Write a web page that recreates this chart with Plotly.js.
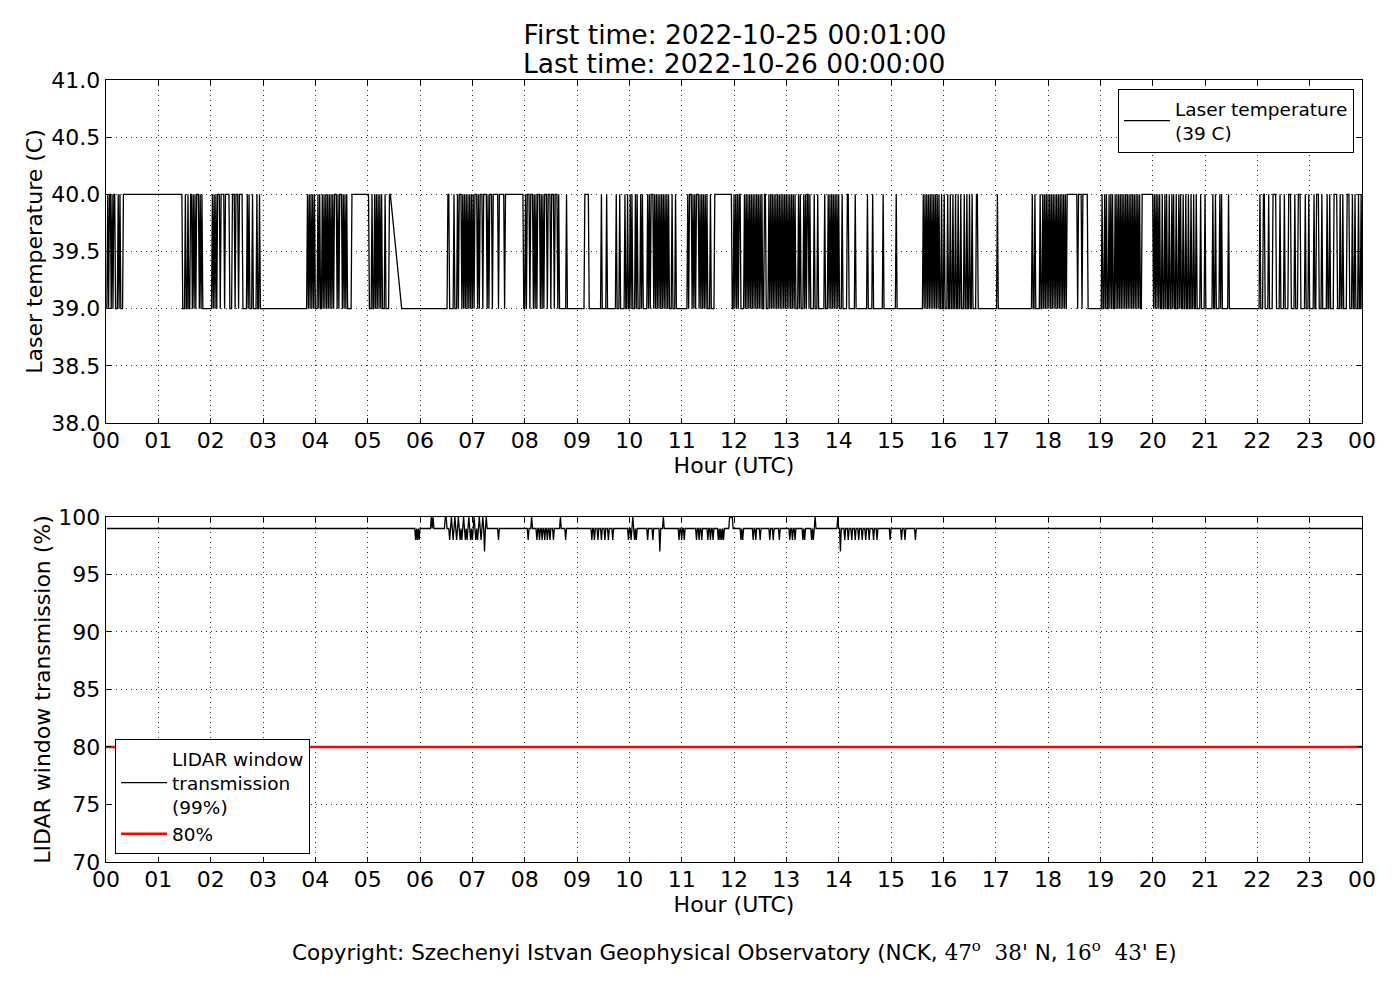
<!DOCTYPE html>
<html>
<head>
<meta charset="utf-8">
<script src="https://cdn.plot.ly/plotly-3.0.1.min.js"></script>
<style>
  body { margin: 0; background: #fff; }
</style>
</head>
<body>
<div id="plot" style="width:1400px;height:1000px"></div>
<script>
// minutes (HH:MM or HH:MM-HH:MM) where the laser reads 40 C, all other samples read 39 C
var tempHigh = [
    "00:02", "00:04-00:05", "00:07", "00:09-00:10", "00:14", "00:16", "00:20-01:27",
    "01:31", "01:34", "01:37-01:38", "01:40", "01:42", "01:44-01:46", "01:48", "01:50",
    "02:02", "02:04", "02:06", "02:08-02:10", "02:12-02:15", "02:17-02:21", "02:25-02:27",
    "02:29-02:31", "02:33-02:36", "02:42", "02:44", "02:48", "02:53", "02:56",
    "03:51", "03:53", "03:55", "03:57", "03:59", "04:03", "04:05", "04:08", "04:10", "04:12",
    "04:14", "04:16", "04:18", "04:20", "04:22-04:24", "04:26", "04:28-04:30", "04:32", "04:34",
    "04:36", "04:42-05:01", "05:05", "05:08", "05:10", "05:12", "05:14", "05:16", "05:20",
    "05:25-05:26",
    "06:32-06:33", "06:39", "06:43", "06:45-06:47", "06:49", "06:51", "06:53", "06:55", "06:57",
    "06:59", "07:01", "07:03-07:05", "07:07", "07:09-07:11", "07:13-07:16", "07:18",
    "07:20-07:22", "07:24-07:29", "07:31-07:36", "07:38-07:58",
    "08:01", "08:03-08:05", "08:07-08:09", "08:11", "08:13", "08:15-08:17", "08:19", "08:21",
    "08:23-08:25", "08:27-08:29", "08:31-08:33", "08:35-08:37", "08:39",
    "08:48", "09:09-09:13", "09:28", "09:34", "09:45", "09:49", "09:55", "09:58",
    "10:01", "10:03", "10:07", "10:09", "10:13", "10:15",
    "10:21", "10:23", "10:25-10:27", "10:29", "10:31", "10:33", "10:35", "10:37", "10:39",
    "10:41", "10:43", "10:45", "10:49", "10:53",
    "11:07", "11:09-11:11", "11:13", "11:15", "11:17-11:19", "11:21", "11:23", "11:25",
    "11:27", "11:29", "11:33", "11:38-11:57",
    "12:00", "12:02", "12:04", "12:06-12:07", "12:12", "12:14", "12:16", "12:18", "12:20",
    "12:22", "12:24", "12:26", "12:28", "12:30", "12:32", "12:35-12:36", "12:40", "12:42",
    "12:44", "12:46", "12:48", "12:50", "12:52", "12:54", "12:56", "12:58", "13:00", "13:02",
    "13:04", "13:06", "13:08", "13:10",
    "13:14", "13:16", "13:20", "13:22", "13:24-13:25", "13:27", "13:32", "13:36", "13:44",
    "13:48", "13:50", "13:52", "13:54", "13:56", "13:58", "14:00",
    "14:04", "14:10-14:11", "14:19", "14:33", "14:39", "14:51", "15:06",
    "15:37", "15:39", "15:41", "15:43", "15:45", "15:47", "15:49", "15:51", "15:53", "15:55",
    "15:58", "16:01", "16:05", "16:08", "16:11", "16:14", "16:17", "16:20", "16:24", "16:27",
    "16:30", "16:33", "16:38-16:39",
    "17:02", "17:42", "17:45",
    "17:51", "17:54", "17:56", "17:58", "18:00", "18:02", "18:04", "18:06", "18:08", "18:10",
    "18:12", "18:14", "18:16", "18:18", "18:20", "18:22-18:33", "18:35-18:38", "18:40-18:45",
    "19:02", "19:05", "19:07", "19:10", "19:12", "19:14", "19:17", "19:19", "19:21", "19:23",
    "19:25", "19:27", "19:29", "19:31", "19:33", "19:35", "19:37", "19:39", "19:41", "19:43",
    "19:45", "19:48-20:00",
    "20:02", "20:04", "20:06", "20:08", "20:11", "20:14", "20:16", "20:19", "20:22", "20:24",
    "20:27", "20:30", "20:32", "20:35", "20:38", "20:41", "20:44", "20:47", "20:50", "20:55",
    "21:00", "21:09", "21:12", "21:17", "21:19", "21:27",
    "22:03", "22:07-22:08", "22:13", "22:18-22:21", "22:26", "22:31", "22:36-22:38", "22:43",
    "22:47-22:49", "22:55", "22:59", "23:05", "23:08-23:10", "23:14", "23:20", "23:23",
    "23:28-23:31", "23:35", "23:38", "23:43-23:45", "23:49", "23:52", "23:56", "23:59"
]
var tempLowValue = 39
var tempHighValue = 40
var tempGap = ["05:26", "05:39"]   // no samples in between

// LIDAR window transmission: 99 % except at these minutes
var lidarTimes = [
    "05:55", "05:57", "05:59", "06:13", "06:15",
    "06:29", "06:30", "06:34", "06:36", "06:38", "06:40", "06:42", "06:44", "06:46", "06:48",
    "06:50", "06:52", "06:54", "06:56", "06:58", "07:00", "07:02", "07:04", "07:06", "07:08",
    "07:10", "07:12", "07:14", "07:16", "07:30",
    "08:04", "08:08", "08:14", "08:17", "08:20", "08:23", "08:26", "08:29", "08:33", "08:41",
    "08:47",
    "09:17", "09:20", "09:24", "09:28", "09:32", "09:36", "09:41", "09:59", "10:02", "10:04",
    "10:06", "10:08", "10:21", "10:27", "10:35", "10:39",
    "10:57", "11:00", "11:03", "11:17", "11:20", "11:23", "11:30", "11:33", "11:36", "11:42",
    "11:44", "11:46", "11:48", "11:55", "11:56", "11:57", "11:58",
    "12:08", "12:10", "12:22", "12:25", "12:30", "12:41", "12:45", "12:52", "13:04", "13:07",
    "13:10", "13:19", "13:21", "13:29", "13:31", "13:33", "13:59", "14:02", "14:07", "14:11",
    "14:15", "14:19", "14:23", "14:27", "14:31", "14:35", "14:40", "14:44", "14:59", "15:12",
    "15:16", "15:28"
]
var lidarValues = [
    98, 98, 98, 100, 100,
    100, 100, 98, 100, 98, 100, 98, 100, 98, 98,
    100, 98, 98, 100, 98, 98, 100, 98, 98, 100,
    98, 100, 97, 100, 98,
    98, 100, 98, 98, 98, 98, 98, 98, 98, 100,
    98,
    98, 98, 98, 98, 98, 98, 98, 98, 98, 100,
    98, 98, 98, 98, 97, 100,
    98, 98, 98, 98, 98, 98, 98, 98, 98, 98,
    98, 98, 98, 100, 100, 100, 100,
    98, 98, 98, 98, 98, 98, 98, 98, 98, 98,
    98, 98, 98, 98, 98, 100, 100, 97, 98, 98,
    98, 98, 98, 98, 98, 98, 98, 98, 98, 98,
    98, 98
]
var lidarBase = 99
var lidarLimit = 80

var firstMinute = "00:01"
var lastMinute = "24:00"
var hourLabels = ["00", "01", "02", "03", "04", "05", "06", "07", "08", "09", "10", "11",
                  "12", "13", "14", "15", "16", "17", "18", "19", "20", "21", "22", "23", "00"]

function toMin(s){
    let p = s.split(":")
    return parseInt(p[0], 10)*60 + parseInt(p[1], 10)
}

function buildTemp(){
    let x = [], y = []
    let first = toMin(firstMinute), last = toMin(lastMinute)
    let gap0 = toMin(tempGap[0]), gap1 = toMin(tempGap[1])
    function add(m, v){
        if (x.length && x[x.length-1] >= m) return
        x.push(m); y.push(v)
    }
    add(first, tempLowValue)
    for (let p of tempHigh){
        let parts = p.split("-")
        let s = toMin(parts[0])
        let e = toMin(parts[parts.length-1])
        add(s-1, tempLowValue)
        add(s, tempHighValue)
        add(e, tempHighValue)
        if (e === gap0){
            add(gap1, tempLowValue)
        } else {
            add(e+1, tempLowValue)
        }
    }
    add(last, tempLowValue)
    return {x: x.map(m => m/60), y: y}
}

function buildLidar(){
    let x = [], y = []
    let first = toMin(firstMinute), last = toMin(lastMinute)
    function add(m, v){
        if (x.length && x[x.length-1] >= m) return
        x.push(m); y.push(v)
    }
    add(first, lidarBase)
    for (let i = 0; i < lidarTimes.length; i++){
        let m = toMin(lidarTimes[i])
        add(m-1, lidarBase)
        add(m, lidarValues[i])
        let next = i+1 < lidarTimes.length ? toMin(lidarTimes[i+1]) : null
        if (next !== m+1) add(m+1, lidarBase)
    }
    add(last, lidarBase)
    return {x: x.map(m => m/60), y: y}
}

function plot(){
    let temp = buildTemp()
    let lidar = buildLidar()
    let hourVals = hourLabels.map((h, i) => i)
    let font = {family: "DejaVu Sans, sans-serif", size: 22, color: "#000"}
    let legendFont = {family: "DejaVu Sans, sans-serif", size: 18.5, color: "#000"}

    let data = [
        {
            x: temp.x, y: temp.y,
            type: "scatter", mode: "lines",
            line: {color: "#000", width: 1.3},
            name: "Laser temperature<br>(39 C)",
            xaxis: "x", yaxis: "y",
            legend: "legend"
        },
        {
            x: lidar.x, y: lidar.y,
            type: "scatter", mode: "lines",
            line: {color: "#000", width: 1.3},
            name: "LIDAR window<br>transmission<br>(99%)",
            xaxis: "x2", yaxis: "y2",
            legend: "legend2"
        },
        {
            x: [0, 24], y: [lidarLimit, lidarLimit],
            type: "scatter", mode: "lines",
            line: {color: "#ff0000", width: 2.5},
            name: "80%",
            xaxis: "x2", yaxis: "y2",
            legend: "legend2"
        }
    ]

    let xaxisBase = {
        range: [0, 24],
        tickmode: "array",
        tickvals: hourVals,
        ticktext: hourLabels,
        ticks: "inside",
        ticklen: 5,
        tickcolor: "#000",
        ticklabelstandoff: -3,
        mirror: "allticks",
        showline: true,
        linecolor: "#000",
        linewidth: 1.3,
        showgrid: true,
        gridcolor: "#333",
        griddash: "1px,4px",
        gridwidth: 1,
        zeroline: false,
        tickfont: font,
        title: {text: "Hour (UTC)", font: font, standoff: 4}
    }
    let yaxisBase = {
        ticks: "inside",
        ticklen: 5,
        tickcolor: "#000",
        mirror: "allticks",
        showline: true,
        linecolor: "#000",
        linewidth: 1.3,
        showgrid: true,
        gridcolor: "#333",
        griddash: "1px,4px",
        gridwidth: 1,
        zeroline: false,
        tickfont: font
    }

    let layout = {
        width: 1400,
        height: 1000,
        paper_bgcolor: "#fff",
        plot_bgcolor: "#fff",
        margin: {l: 106, r: 38, t: 80, b: 138},
        font: font,
        title: {
            text: "First time: 2022-10-25 00:01:00",
            font: {family: "DejaVu Sans, sans-serif", size: 26.5, color: "#000"},
            x: 0.525, xanchor: "center",
            y: 0.965, yanchor: "middle", yref: "container"
        },
        xaxis: Object.assign({}, xaxisBase, {anchor: "y", domain: [0, 1]}),
        yaxis: Object.assign({}, yaxisBase, {
            anchor: "x", domain: [0.5614, 1],
            range: [38, 41], dtick: 0.5, tick0: 38, tickformat: ".1f",
            title: {text: "Laser temperature (C)", font: font, standoff: 2}
        }),
        xaxis2: Object.assign({}, xaxisBase, {anchor: "y2", domain: [0, 1]}),
        yaxis2: Object.assign({}, yaxisBase, {
            anchor: "x2", domain: [0, 0.4412],
            range: [70, 100], dtick: 5, tick0: 70,
            title: {text: "LIDAR window transmission (%)", font: font, standoff: 1}
        }),
        legend: {
            x: 0.9936, y: 0.9885, xanchor: "right", yanchor: "top",
            bordercolor: "#000", borderwidth: 1, bgcolor: "#fff",
            itemwidth: 46,
            font: legendFont
        },
        legend2: {
            x: 0.0072, y: 0.0102, xanchor: "left", yanchor: "bottom",
            bordercolor: "#000", borderwidth: 1, bgcolor: "#fff",
            itemwidth: 46,
            font: legendFont
        },
        annotations: [
            {
                xref: "paper", yref: "paper",
                x: 0.5, y: 1.0205, xanchor: "center", yanchor: "middle",
                showarrow: false,
                font: {family: "DejaVu Sans, sans-serif", size: 26.5, color: "#000"},
                text: "Last time: 2022-10-26 00:00:00"
            },
            {
                xref: "paper", yref: "paper",
                x: 0.5, y: -0.1138, xanchor: "center", yanchor: "middle",
                showarrow: false,
                font: {family: "DejaVu Sans, sans-serif", size: 21.5, color: "#000"},
                text: "Copyright: Szechenyi Istvan Geophysical Observatory (NCK, " +
                      "<span style='font-family:DejaVu Serif'>47<sup>o</sup>  38'</span> N, " +
                      "<span style='font-family:DejaVu Serif'>16<sup>o</sup>  43'</span> E)"
            }
        ],
        showlegend: true
    }

    Plotly.newPlot("plot", data, layout, {displayModeBar: false, staticPlot: true})
}

plot()
</script>
</body>
</html>
